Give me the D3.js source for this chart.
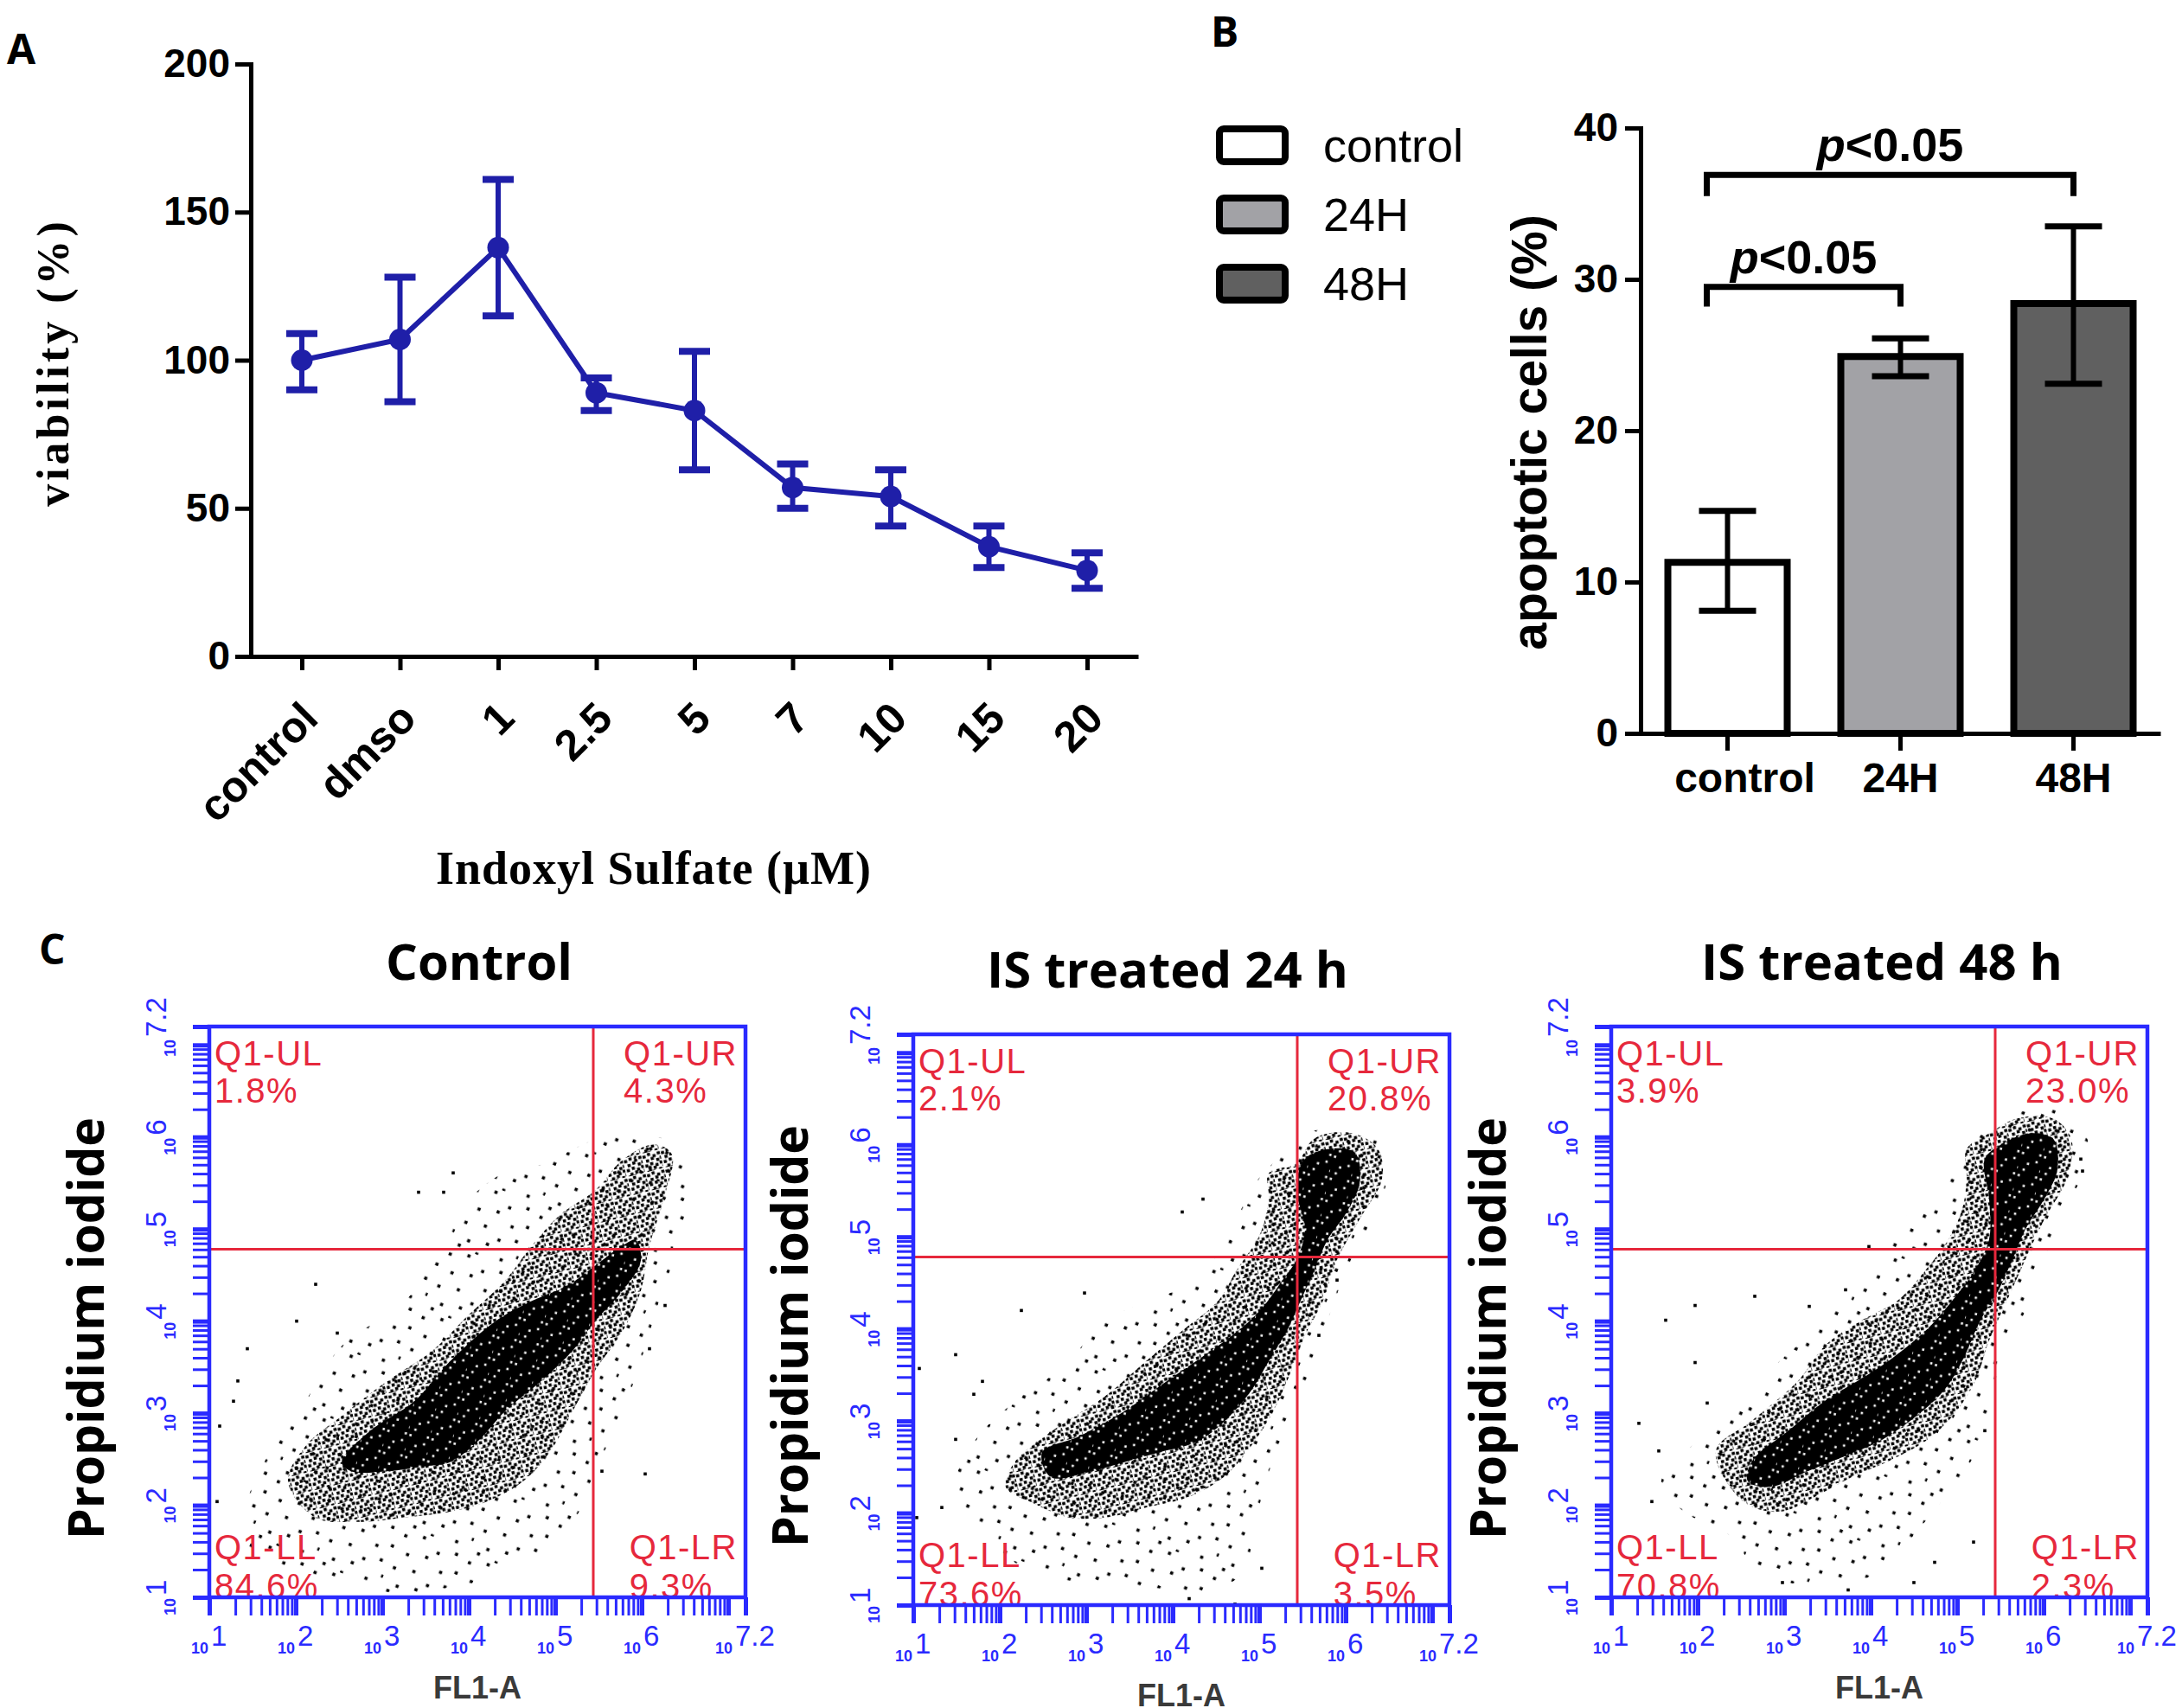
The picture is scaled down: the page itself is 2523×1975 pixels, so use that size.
<!DOCTYPE html>
<html>
<head>
<meta charset="utf-8">
<script src="https://cdn.jsdelivr.net/npm/d3@7"></script>
<style>
body{margin:0;background:#fff;}
svg{display:block;}
</style>
</head>
<body>
<svg id="fig" width="2523" height="1975"></svg>
<script>
// ---- panel A : viability vs indoxyl sulfate ----
const viabCats = ['control','dmso','1','2.5','5','7','10','15','20'];
const viabMean = [100, 107, 138, 89, 83, 57, 54, 37, 29];
const viabLow  = [90, 86, 115, 83, 63, 50, 44, 30, 23];
const viabHigh = [109, 128, 161, 94, 103, 65, 63, 44, 35];
const viabTicks = [0, 50, 100, 150, 200];

// ---- panel B : apoptotic cells ----
const apopCats = ['control','24H','48H'];
const apopMean = [11.3, 24.9, 28.4];
const apopLow  = [8.1, 23.6, 23.1];
const apopHigh = [14.7, 26.1, 33.5];
const apopTicks = [0, 10, 20, 30, 40];
const sigFrom  = [0, 0];
const sigTo    = [1, 2];
const sigLevel = [29.5, 36.9];
const sigLeg   = [28.2, 35.5];

// ---- panel C : flow cytometry (log10 units) ----
const flowTitles = ['Control', 'IS treated 24 h', 'IS treated 48 h'];
const quadNames = ['Q1-UL', 'Q1-UR', 'Q1-LL', 'Q1-LR'];
const quadCtrl = [1.8, 4.3, 84.6, 9.3];
const quad24 = [2.1, 20.8, 73.6, 3.5];
const quad48 = [3.9, 23.0, 70.8, 2.3];
const gateX = 5.44, gateY = 4.78;
const decadeExp = ['1','2','3','4','5','6','7.2'];

const ctrlCore = [[2.53,2.47],[2.85,2.80],[3.37,3.13],[3.79,3.57],[4.31,4.00],[4.73,4.22],[5.15,4.39],[5.46,4.60],[5.78,4.82],[5.93,4.88],[5.99,4.66],[5.78,4.33],[5.46,4.00],[5.20,3.68],[4.84,3.35],[4.42,3.02],[4.10,2.69],[3.79,2.47],[3.48,2.42],[3.06,2.37],[2.64,2.37]];
const ctrlMid = [[1.91,2.26],[2.11,2.64],[2.53,2.97],[3.06,3.35],[3.58,3.68],[3.99,4.06],[4.42,4.44],[4.73,4.82],[5.05,5.15],[5.46,5.42],[5.78,5.75],[6.14,5.92],[6.35,5.81],[6.25,5.31],[6.09,4.82],[5.99,4.33],[5.78,3.89],[5.46,3.46],[5.20,3.02],[4.94,2.58],[4.63,2.26],[4.21,2.04],[3.79,1.93],[3.27,1.87],[2.74,1.82],[2.22,1.87]];
const ctrlHalo = [[1.38,1.82],[1.70,2.58],[2.11,3.13],[2.53,3.73],[3.27,4.22],[3.68,4.82],[3.99,5.31],[4.47,5.64],[4.84,5.70],[5.46,5.97],[5.99,6.02],[6.51,5.86],[6.51,5.10],[6.20,4.22],[5.99,3.57],[5.78,3.02],[5.46,2.37],[5.20,1.82],[4.42,1.27],[3.79,1.11],[3.16,1.05],[2.53,1.16],[1.91,1.33],[1.49,1.49]];
const ctrlOut = [[1.44,3.70],[2.23,4.40],[3.82,5.61],[3.42,5.40],[3.71,5.40],[1.28,3.13],[1.33,3.35],[1.09,2.04],[1.12,2.86],[6.04,2.34],[5.54,2.37],[6.27,4.17],[6.09,3.70],[2.01,4.00],[2.48,3.87]];

const h24Core = [[2.49,2.66],[2.91,2.83],[3.43,3.10],[3.85,3.38],[4.27,3.65],[4.69,3.93],[5.01,4.20],[5.27,4.53],[5.43,4.75],[5.53,5.08],[5.43,5.52],[5.53,5.85],[5.85,5.96],[6.11,5.91],[6.16,5.58],[6.00,5.25],[5.79,4.97],[5.64,4.64],[5.48,4.31],[5.32,3.98],[5.11,3.65],[4.90,3.32],[4.59,2.99],[4.27,2.77],[3.85,2.66],[3.43,2.55],[3.01,2.44],[2.59,2.39]];
const h24Mid = [[2.17,2.55],[2.59,2.88],[3.22,3.27],[3.69,3.65],[4.11,3.98],[4.53,4.31],[4.74,4.64],[5.01,5.03],[5.11,5.41],[5.11,5.69],[5.43,5.80],[5.64,6.07],[6.06,6.13],[6.37,5.96],[6.42,5.63],[6.16,5.19],[5.90,4.75],[5.74,4.31],[5.53,3.93],[5.37,3.54],[5.16,3.10],[4.90,2.72],[4.59,2.39],[4.17,2.17],[3.69,2.06],[3.22,1.95],[2.80,1.95],[2.38,2.11],[2.07,2.28]];
const h24Halo = [[1.49,2.28],[1.70,2.77],[2.17,3.21],[2.75,3.60],[3.22,4.09],[3.75,4.31],[4.27,4.53],[4.59,4.92],[4.85,5.41],[4.95,5.58],[5.16,5.80],[5.58,6.13],[6.00,6.18],[6.47,5.96],[6.42,5.41],[6.06,4.75],[5.79,4.09],[5.64,3.65],[5.43,3.21],[5.11,2.44],[4.95,1.89],[4.80,1.34],[4.27,1.12],[3.85,1.18],[3.22,1.23],[2.64,1.29],[2.28,1.40],[1.86,1.73]];
const h24Out = [[4.11,5.27],[4.35,5.41],[2.98,4.39],[2.25,4.20],[1.49,3.72],[1.07,3.57],[1.80,3.43],[1.70,3.29],[1.49,2.80],[1.33,2.06],[1.04,1.95],[4.19,1.07],[4.72,1.01],[5.03,1.40],[5.69,3.93],[5.90,4.53]];

const h48Core = [[2.63,2.48],[3.05,2.81],[3.48,3.14],[3.85,3.35],[4.21,3.57],[4.64,3.90],[4.95,4.23],[5.21,4.56],[5.37,4.89],[5.37,5.33],[5.32,5.76],[5.53,5.93],[5.85,6.04],[6.11,5.98],[6.16,5.65],[6.01,5.33],[5.79,5.00],[5.64,4.67],[5.48,4.34],[5.27,4.01],[5.06,3.57],[4.85,3.25],[4.53,2.97],[4.11,2.70],[3.69,2.53],[3.27,2.37],[2.84,2.20],[2.58,2.26]];
const h48Mid = [[2.21,2.59],[2.63,2.92],[3.16,3.35],[3.48,3.74],[3.90,4.01],[4.32,4.23],[4.64,4.56],[4.90,4.89],[5.06,5.22],[5.11,5.55],[5.11,5.87],[5.37,6.04],[5.69,6.20],[6.11,6.20],[6.32,5.98],[6.27,5.55],[6.01,5.11],[5.79,4.67],[5.58,4.23],[5.37,3.79],[5.21,3.35],[4.95,2.97],[4.64,2.70],[4.21,2.48],[3.79,2.31],[3.37,2.10],[2.95,1.93],[2.53,2.04]];
const h48Halo = [[1.58,2.26],[2.00,2.70],[2.42,2.97],[2.95,3.57],[3.37,3.90],[3.79,4.34],[4.11,4.61],[4.48,5.22],[4.85,5.44],[5.06,5.82],[5.37,6.09],[5.90,6.31],[6.37,6.20],[6.53,5.82],[6.32,5.33],[5.95,4.56],[5.74,4.01],[5.53,3.68],[5.37,3.03],[5.16,2.48],[4.95,2.20],[4.53,1.71],[4.11,1.27],[3.58,1.16],[3.05,1.16],[2.63,1.38],[2.32,1.71],[1.84,1.93]];
const h48Out = [[1.63,4.01],[1.97,4.17],[1.97,3.55],[2.66,4.27],[3.29,4.16],[3.71,4.34],[3.98,4.81],[1.32,2.89],[1.47,2.04],[1.55,2.59],[2.11,3.11],[2.98,1.16],[3.74,1.08],[4.50,1.16],[4.74,1.38],[5.19,1.60],[5.32,2.81],[6.43,5.76],[6.45,5.63]];

const flowSets = [
  {core: ctrlCore, mid: ctrlMid, halo: ctrlHalo, out: ctrlOut, quad: quadCtrl},
  {core: h24Core, mid: h24Mid, halo: h24Halo, out: h24Out, quad: quad24},
  {core: h48Core, mid: h48Mid, halo: h48Halo, out: h48Out, quad: quad48}
];

const SANS = '"Liberation Sans", Arial, sans-serif';
const SERIF = '"Liberation Serif", "Times New Roman", serif';
const OPEN = '"Open Sans", sans-serif';
const navy = '#1f1fa8', flowBlue = '#2a2aff', flowRed = '#e6283c';

const svg = d3.select('#fig');
svg.append('rect').attr('width', 2523).attr('height', 1975).attr('fill', '#fff');

function label(g, x, y, t) {
  return g.append('text').attr('x', x).attr('y', y).text(t)
    .attr('font-family', OPEN).attr('font-weight', 'bold').attr('font-size', 48);
}

// ================= A =================
const gA = svg.append('g');
label(gA, 8, 74, 'A');

const ax = d3.scalePoint().domain(viabCats).range([290, 1316]).padding(0.52);
const ay = d3.scaleLinear().domain([0, 200]).range([759, 74]);

const yAxA = gA.append('g').attr('transform', 'translate(290,0)')
  .call(d3.axisLeft(ay).tickValues(viabTicks).tickSize(18).tickPadding(6).tickSizeOuter(0));
yAxA.selectAll('path,line').attr('stroke', '#000').attr('stroke-width', 5);
yAxA.select('path').attr('stroke-linecap', 'square');
yAxA.selectAll('text').attr('font-family', SANS).attr('font-weight', 'bold')
  .attr('font-size', 46).attr('fill', '#000');

const xAxA = gA.append('g').attr('transform', 'translate(0,759)')
  .call(d3.axisBottom(ax).tickSize(16).tickSizeOuter(0));
xAxA.selectAll('path,line').attr('stroke', '#000').attr('stroke-width', 5);
xAxA.selectAll('text').remove();

gA.selectAll('.xcat').data(viabCats).join('text')
  .attr('transform', d => `translate(${ax(d) + 9},821) rotate(-45)`)
  .attr('text-anchor', 'end').attr('dy', '0.35em')
  .attr('font-family', SANS).attr('font-weight', 'bold').attr('font-size', 50)
  .text(d => d);

gA.append('text').attr('transform', 'translate(79,419) rotate(-90)')
  .attr('text-anchor', 'middle').attr('font-family', SERIF).attr('font-weight', 'bold')
  .attr('font-size', 52).attr('letter-spacing', 4).text('viability (%)');
gA.append('text').attr('x', 756).attr('y', 1022)
  .attr('text-anchor', 'middle').attr('font-family', SERIF).attr('font-weight', 'bold')
  .attr('font-size', 54).attr('letter-spacing', 1).text('Indoxyl Sulfate (\u00b5M)');

const viab = viabCats.map((c, i) => ({c, m: viabMean[i], lo: viabLow[i], hi: viabHigh[i]}));
gA.append('path').datum(viab)
  .attr('d', d3.line().x(d => ax(d.c)).y(d => ay(d.m)))
  .attr('fill', 'none').attr('stroke', navy).attr('stroke-width', 6);
const eb = gA.selectAll('.eb').data(viab).join('g');
eb.append('line').attr('x1', d => ax(d.c)).attr('x2', d => ax(d.c))
  .attr('y1', d => ay(d.lo)).attr('y2', d => ay(d.hi))
  .attr('stroke', navy).attr('stroke-width', 6);
eb.selectAll('.cap').data(d => [[d.c, d.lo], [d.c, d.hi]]).join('line')
  .attr('x1', d => ax(d[0]) - 18).attr('x2', d => ax(d[0]) + 18)
  .attr('y1', d => ay(d[1])).attr('y2', d => ay(d[1]))
  .attr('stroke', navy).attr('stroke-width', 8);
eb.append('circle').attr('cx', d => ax(d.c)).attr('cy', d => ay(d.m))
  .attr('r', 12.5).attr('fill', navy);

// ================= B =================
const gB = svg.append('g');
label(gB, 1400, 54, 'B');

const bx = d3.scaleBand().domain(apopCats).range([1897, 2498])
  .paddingInner(0.31).paddingOuter(0.1575);
const by = d3.scaleLinear().domain([0, 40]).range([848, 148]);
const apopFill = ['#ffffff', '#a2a2a6', '#606060'];

const apop = apopCats.map((c, i) => ({c, m: apopMean[i], lo: apopLow[i], hi: apopHigh[i], f: apopFill[i]}));
gB.selectAll('.bar').data(apop).join('rect')
  .attr('x', d => bx(d.c)).attr('width', bx.bandwidth())
  .attr('y', d => by(d.m)).attr('height', d => by(0) - by(d.m))
  .attr('fill', d => d.f).attr('stroke', '#000').attr('stroke-width', 8);
const ebB = gB.selectAll('.ebb').data(apop).join('g');
const bc = d => bx(d.c) + bx.bandwidth() / 2;
ebB.append('line').attr('x1', bc).attr('x2', bc)
  .attr('y1', d => by(d.lo)).attr('y2', d => by(d.hi))
  .attr('stroke', '#000').attr('stroke-width', 6);
ebB.selectAll('.cap').data(d => [[d, d.lo], [d, d.hi]]).join('line')
  .attr('x1', d => bc(d[0]) - 33).attr('x2', d => bc(d[0]) + 33)
  .attr('y1', d => by(d[1])).attr('y2', d => by(d[1]))
  .attr('stroke', '#000').attr('stroke-width', 7);

const yAxB = gB.append('g').attr('transform', 'translate(1897,0)')
  .call(d3.axisLeft(by).tickValues(apopTicks).tickSize(18).tickPadding(8).tickSizeOuter(0));
yAxB.selectAll('path,line').attr('stroke', '#000').attr('stroke-width', 5);
yAxB.select('path').attr('stroke-linecap', 'square');
yAxB.selectAll('text').attr('font-family', SANS).attr('font-weight', 'bold')
  .attr('font-size', 46).attr('fill', '#000');
const xAxB = gB.append('g').attr('transform', 'translate(0,848)')
  .call(d3.axisBottom(bx).tickSize(20).tickPadding(14).tickSizeOuter(0));
xAxB.selectAll('path,line').attr('stroke', '#000').attr('stroke-width', 5);
xAxB.selectAll('text').attr('font-family', SANS).attr('font-weight', 'bold')
  .attr('font-size', 48).attr('fill', '#000')
  .attr('dx', (d, i) => i === 0 ? 20 : 0);

gB.append('text').attr('transform', 'translate(1788,500) rotate(-90)')
  .attr('text-anchor', 'middle').attr('font-family', SANS).attr('font-weight', 'bold')
  .attr('font-size', 57).text('apoptotic cells (%)');

// legend
const leg = gB.selectAll('.leg').data(apop).join('g')
  .attr('transform', (d, i) => `translate(1410,${149 + i * 80})`);
leg.append('rect').attr('width', 76).attr('height', 38).attr('rx', 5)
  .attr('fill', d => d.f).attr('stroke', '#000').attr('stroke-width', 8);
leg.append('text').attr('x', 120).attr('y', 38)
  .attr('font-family', SANS).attr('font-size', 54).text(d => d.c);

// significance brackets
sigFrom.forEach((a, i) => {
  const x1 = bc(apop[a]) - 24, x2 = bc(apop[sigTo[i]]);
  gB.append('path')
    .attr('d', `M${x1},${by(sigLeg[i])}V${by(sigLevel[i])}H${x2}V${by(sigLeg[i])}`)
    .attr('fill', 'none').attr('stroke', '#000').attr('stroke-width', 7);
  const t = gB.append('text').attr('x', (x1 + x2) / 2).attr('y', by(sigLevel[i]) - 16)
    .attr('text-anchor', 'middle').attr('font-family', SANS).attr('font-weight', 'bold')
    .attr('font-size', 54);
  t.append('tspan').attr('font-style', 'italic').text('p');
  t.append('tspan').text('<0.05');
});

// ================= C =================
label(svg, 45, 1115, 'C');

const speck = [[0.05,0.12],[0.31,0.04],[0.58,0.17],[0.83,0.08],[0.18,0.36],[0.45,0.29],
  [0.72,0.41],[0.93,0.33],[0.08,0.61],[0.36,0.55],[0.62,0.66],[0.86,0.58],[0.22,0.84],
  [0.49,0.78],[0.76,0.91],[0.97,0.79],[0.12,0.95],[0.40,0.97]];
const defs = svg.append('defs');
[['dotMid', 22, -14], ['dotHalo', 80, 23]].forEach(p => {
  const pat = defs.append('pattern').attr('id', p[0]).attr('patternUnits', 'userSpaceOnUse')
    .attr('width', p[1]).attr('height', p[1]).attr('patternTransform', `rotate(${p[2]})`);
  pat.selectAll('rect').data(speck).join('rect')
    .attr('x', d => d[0] * p[1]).attr('y', d => d[1] * p[1])
    .attr('width', 3.6).attr('height', 3.6).attr('fill', '#000');
});
// dense core: black with a few white gaps
const corePat = defs.append('pattern').attr('id', 'dotCore').attr('patternUnits', 'userSpaceOnUse')
  .attr('width', 26).attr('height', 26).attr('patternTransform', 'rotate(11)');
corePat.append('rect').attr('width', 26).attr('height', 26).attr('fill', '#000');
corePat.selectAll('.gap').data(speck.filter((d, i) => i % 3 === 0)).join('rect')
  .attr('x', d => d[0] * 26).attr('y', d => d[1] * 26)
  .attr('width', 2.6).attr('height', 2.6).attr('fill', '#fff');

const plotLeft = [242, 1056, 1863];
const plotTop = [1187, 1196, 1187];
const titleX = [554, 1350, 2176];
const PW = 620, PH = 660;
const TOP = Math.pow(10, 7.2);

const tickVals = [];
for (let d = 1; d <= 7; d++) for (let m = 1; m < 10; m++) {
  const v = m * Math.pow(10, d);
  if (v < TOP) tickVals.push(v);
}
tickVals.push(TOP);
const isMajor = v => Math.abs(Math.log10(v) - Math.round(Math.log10(v))) < 1e-9 || v === TOP;

flowSets.forEach((fs, k) => {
  const L = plotLeft[k], T = plotTop[k], R = L + PW, B = T + PH;
  const fx = d3.scaleLog().domain([10, TOP]).range([L, R]);
  const fy = d3.scaleLog().domain([10, TOP]).range([B, T]);
  const g = svg.append('g');

  defs.append('clipPath').attr('id', 'clip' + k)
    .append('rect').attr('x', L).attr('y', T).attr('width', PW).attr('height', PH);
  const body = g.append('g').attr('clip-path', `url(#clip${k})`);

  const cloud = d3.line().curve(d3.curveCatmullRomClosed.alpha(0.5))
    .x(d => fx(Math.pow(10, d[0]))).y(d => fy(Math.pow(10, d[1])));
  body.append('path').attr('d', cloud(fs.halo)).attr('fill', 'url(#dotHalo)');
  body.append('path').attr('d', cloud(fs.mid)).attr('fill', 'url(#dotMid)');
  body.append('path').attr('d', cloud(fs.core)).attr('fill', 'url(#dotCore)');
  body.selectAll('.out').data(fs.out).join('rect')
    .attr('x', d => fx(Math.pow(10, d[0])) - 1.8).attr('y', d => fy(Math.pow(10, d[1])) - 1.8)
    .attr('width', 3.6).attr('height', 3.6).attr('fill', '#000');

  // gates
  body.append('line').attr('x1', fx(Math.pow(10, gateX))).attr('x2', fx(Math.pow(10, gateX)))
    .attr('y1', T).attr('y2', B).attr('stroke', flowRed).attr('stroke-width', 3);
  body.append('line').attr('x1', L).attr('x2', R)
    .attr('y1', fy(Math.pow(10, gateY))).attr('y2', fy(Math.pow(10, gateY)))
    .attr('stroke', flowRed).attr('stroke-width', 3);

  // quadrant text
  const qt = (name, val, x, y1, y2, right) => {
    const a = g.append('text').attr('x', x).attr('y', y1).text(name);
    const b = g.append('text').attr('x', x).attr('y', y2).text(val.toFixed(1) + '%');
    [a, b].forEach(t => t.attr('font-family', SANS).attr('font-size', 40)
      .attr('letter-spacing', 1.5).attr('fill', flowRed));
    if (right) {
      const w = a.node().getComputedTextLength();
      a.attr('x', x - w); b.attr('x', x - w);
    }
  };
  qt(quadNames[0], fs.quad[0], L + 6, T + 45, T + 88, false);
  qt(quadNames[1], fs.quad[1], R - 9, T + 45, T + 88, true);
  qt(quadNames[2], fs.quad[2], L + 6, B - 44, B + 1, false);
  qt(quadNames[3], fs.quad[3], R - 9, B - 44, B + 1, true);

  // axes
  const xa = g.append('g').attr('transform', `translate(0,${B})`)
    .call(d3.axisBottom(fx).tickValues(tickVals).tickFormat('').tickSize(21).tickSizeOuter(0));
  const ya = g.append('g').attr('transform', `translate(${L},0)`)
    .call(d3.axisLeft(fy).tickValues(tickVals).tickFormat('').tickSize(19).tickSizeOuter(0));
  [xa, ya].forEach(a => {
    a.select('.domain').remove();
    a.selectAll('line').attr('stroke', flowBlue).attr('stroke-width', d => isMajor(d) ? 5 : 3);
  });
  g.append('rect').attr('x', L).attr('y', T).attr('width', PW).attr('height', PH)
    .attr('fill', 'none').attr('stroke', flowBlue).attr('stroke-width', 4.5);

  // decade labels (the last one is pulled back inside the frame)
  decadeExp.forEach((e, j) => {
    const v = Math.pow(10, +e);
    const shift = j === decadeExp.length - 1 ? -14 : 0;
    const xt = g.append('g').attr('transform', `translate(${fx(v) + shift},${B})`)
      .attr('fill', flowBlue).attr('font-family', SANS);
    xt.append('text').attr('x', -1).attr('y', 65).attr('text-anchor', 'end')
      .attr('font-size', 18).attr('font-weight', 'bold').text('10');
    xt.append('text').attr('x', 2).attr('y', 56).attr('font-size', 33).text(e);
    const yt = g.append('g').attr('transform', `translate(${L},${fy(v) - shift}) rotate(-90)`)
      .attr('fill', flowBlue).attr('font-family', SANS);
    yt.append('text').attr('x', -1).attr('y', -39).attr('text-anchor', 'end')
      .attr('font-size', 18).attr('font-weight', 'bold').text('10');
    yt.append('text').attr('x', 2).attr('y', -50).attr('font-size', 33).text(e);
  });

  g.append('text').attr('x', titleX[k]).attr('y', T - 54).attr('text-anchor', 'middle')
    .attr('font-family', OPEN).attr('font-weight', 'bold').attr('font-size', 58)
    .text(flowTitles[k]);
  g.append('text').attr('transform', `translate(${L - 122},${T + 349}) rotate(-90)`)
    .attr('text-anchor', 'middle').attr('font-family', OPEN).attr('font-weight', 'bold')
    .attr('font-size', 57).text('Propidium iodide');
  g.append('text').attr('x', L + PW / 2).attr('y', B + 117).attr('text-anchor', 'middle')
    .attr('font-family', SANS).attr('font-weight', 'bold').attr('font-size', 36)
    .attr('fill', '#3a3a3a').text('FL1-A');
});
</script>
</body>
</html>
